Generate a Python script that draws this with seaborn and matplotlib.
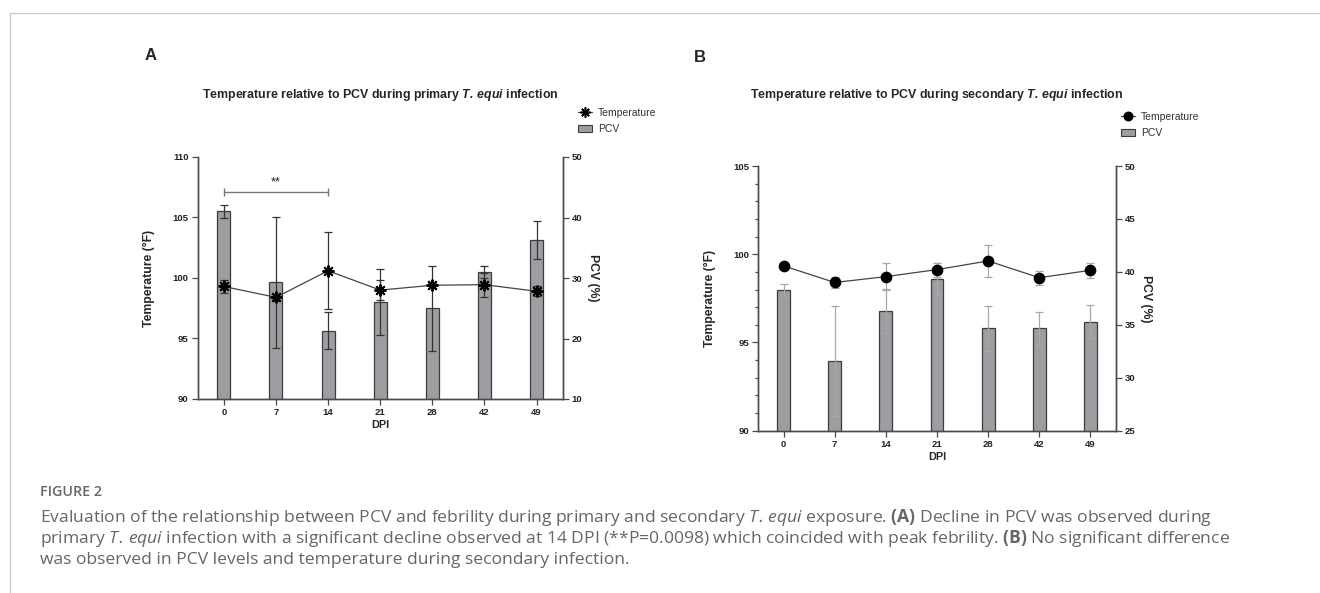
import matplotlib
matplotlib.use("Agg")
import numpy as np
import pandas as pd
import seaborn as sns
import matplotlib.pyplot as plt
from matplotlib.lines import Line2D
from matplotlib.patches import Patch
from matplotlib.ticker import MultipleLocator

sns.set_style("ticks")
plt.rcParams["font.family"] = ["Liberation Sans", "DejaVu Sans"]
plt.rcParams["mathtext.fontset"] = "custom"
plt.rcParams["mathtext.bfit"] = "Liberation Sans:italic:bold"
plt.rcParams["mathtext.it"] = "Open Sans:italic"
plt.rcParams["mathtext.bf"] = "Open Sans:bold"

dpi_labels = ["0", "7", "14", "21", "28", "42", "49"]

# A - primary infection
temp_a = [99.3, 98.4, 100.6, 99.0, 99.4, 99.45, 98.9]
temp_a_err = [0.5, 0.3, 3.2, 0.8, 0.2, 1.0, 0.4]
pcv_a = [41.0, 29.3, 21.3, 26.0, 25.0, 31.0, 36.3]
pcv_a_err = [1.0, 10.8, 3.0, 5.5, 7.0, 1.0, 3.2]

# B - secondary infection
temp_b = [99.34, 98.4, 98.73, 99.13, 99.62, 98.67, 99.09]
temp_b_err = [0.15, 0.3, 0.75, 0.4, 0.9, 0.4, 0.42]
pcv_b = [38.3, 31.6, 36.3, 39.35, 34.66, 34.66, 35.3]
pcv_b_err = [0.6, 5.2, 2.1, 1.5, 2.1, 1.55, 1.55]

bar_col = "#9d9da2"
edge_col = "#3c3c3c"
W, H = 1320, 593

fig = plt.figure(figsize=(13.2, 5.93), dpi=100)


def panel(rect, temp, terr, pcv, perr, tlim, tstep, plim, pstep, marker, msize, ecol, title, legpos):
    ax = fig.add_axes(rect)
    ax2 = ax.twinx()
    x = np.arange(len(dpi_labels))
    df = pd.DataFrame({"DPI": dpi_labels, "PCV": pcv})
    sns.barplot(data=df, x="DPI", y="PCV", ax=ax2, color=bar_col, saturation=1,
                width=0.25, edgecolor=edge_col, linewidth=0.9, errorbar=None)
    ax2.errorbar(x, pcv, yerr=perr, fmt="none", ecolor=ecol, elinewidth=0.9, capsize=3, capthick=0.9)
    ax.errorbar(x, temp, yerr=terr, fmt="none", ecolor=ecol, elinewidth=0.9, capsize=3, capthick=0.9)
    sns.lineplot(x=x, y=temp, ax=ax, color="#444444", lw=0.9, marker=marker, ms=msize,
                 mfc="black", mec="black", mew=1.4)
    ax.set_zorder(ax2.get_zorder() + 1)
    ax.patch.set_visible(False)

    ax.set_xlim(-0.5, 6.5)
    ax.set_xticks(x, dpi_labels)
    ax.set_ylim(*tlim)
    ax.set_yticks(np.arange(tlim[0], tlim[1] + 0.1, tstep))
    ax2.set_ylim(*plim)
    ax2.set_yticks(np.arange(plim[0], plim[1] + 0.1, pstep))

    for a in (ax, ax2):
        for s in a.spines.values():
            s.set_color("#4a4a4a")
            s.set_linewidth(1.0)
        a.spines["top"].set_visible(False)
        a.tick_params(length=4, width=0.9, color="#4a4a4a", labelsize=6.8, labelcolor="#222222", pad=2.5)
        for lab in a.get_xticklabels() + a.get_yticklabels():
            lab.set_fontweight("bold")

    ax.set_xlabel("DPI", fontsize=7.8, fontweight="bold", labelpad=2)
    ax.set_ylabel("Temperature (°F)", fontsize=8.8, fontweight="bold")
    ax.yaxis.set_label_coords(-0.117, 0.5)
    ax2.set_ylabel("PCV (%)", fontsize=8.8, fontweight="bold", rotation=270, va="bottom")
    ax2.yaxis.set_label_coords(1.066, 0.5)

    cx = rect[0] + rect[2] / 2
    fig.text(cx, 1 - 95 / H, title, ha="center", va="center", fontsize=8.9, fontweight="bold")

    handles = [Line2D([0], [0], color="#444444", lw=0.9, marker=marker, ms=msize * 0.85,
                      mfc="black", mec="black", mew=1.2),
               Patch(facecolor=bar_col, edgecolor=edge_col, linewidth=0.8)]
    ax.legend(handles, ["Temperature", "PCV"], loc="upper left", bbox_to_anchor=legpos,
              bbox_transform=fig.transFigure, frameon=False, fontsize=7.5, handlelength=1.3,
              handletextpad=0.6, labelspacing=0.6, borderpad=0, borderaxespad=0,
              labelcolor="#333333")
    return ax, ax2


# \! cancels the extra gap mathtext puts after a period
axA, _ = panel([197.7 / W, 1 - 399 / H, 365 / W, 242 / H], temp_a, temp_a_err, pcv_a, pcv_a_err,
               (90, 110), 5, (10, 50), 10, (8, 2, 0), 8.5, "#333333",
               r"Temperature relative to PCV during primary $\mathbfit{T.\!}$ $\mathbfit{equi}$ infection",
               (578 / W, 1 - 108 / H))
axB, _ = panel([758 / W, 1 - 430.7 / H, 358 / W, 264.7 / H], temp_b, temp_b_err, pcv_b, pcv_b_err,
               (90, 105), 5, (25, 50), 5, "o", 7, "#a8a8a8",
               r"Temperature relative to PCV during secondary $\mathbfit{T.\!}$ $\mathbfit{equi}$ infection",
               (1121 / W, 1 - 112 / H))
axB.yaxis.set_minor_locator(MultipleLocator(1))
axB.tick_params(axis="y", which="minor", length=2.5, width=0.9, color="#4a4a4a")

# significance bracket, day 0 vs day 14
axA.plot([0, 2], [107.1, 107.1], color="#777777", lw=1, marker="|", ms=6, mew=1)
axA.text(1, 107.4, "**", ha="center", va="bottom", fontsize=9, color="#222222")

fig.text(150.7 / W, 1 - 56 / H, "A", ha="center", va="center", fontsize=12, fontweight="bold")
fig.text(700 / W, 1 - 57 / H, "B", ha="center", va="center", fontsize=12, fontweight="bold")

# frame lines of the page
fig.add_artist(Line2D([9.5 / W, 9.5 / W], [0, 1 - 13 / H], transform=fig.transFigure, color="#cccccc", lw=1))
fig.add_artist(Line2D([9.5 / W, 1], [1 - 13 / H, 1 - 13 / H], transform=fig.transFigure, color="#cccccc", lw=1))

cap_kw = dict(fontsize=12.6, color="#666666", family=["Open Sans", "DejaVu Sans"], va="baseline")
fig.text(40 / W, 1 - 496 / H, "FIGURE 2", fontsize=10.3, fontweight="semibold", color="#666666",
         family=["Open Sans", "DejaVu Sans"], va="baseline")
caption = [
    r"Evaluation of the relationship between PCV and febrility during primary and secondary $\mathit{T.\!}$ $\mathit{equi}$ exposure. $\mathbf{(A)}$ Decline in PCV was observed during",
    r"primary $\mathit{T.\!}$ $\mathit{equi}$ infection with a significant decline observed at 14 DPI (**P=0.0098) which coincided with peak febrility. $\mathbf{(B)}$ No significant difference",
    r"was observed in PCV levels and temperature during secondary infection.",
]
for i, line in enumerate(caption):
    fig.text(40 / W, 1 - (522.5 + 20.5 * i) / H, line, **cap_kw)

fig.savefig("out.png", dpi=100)
